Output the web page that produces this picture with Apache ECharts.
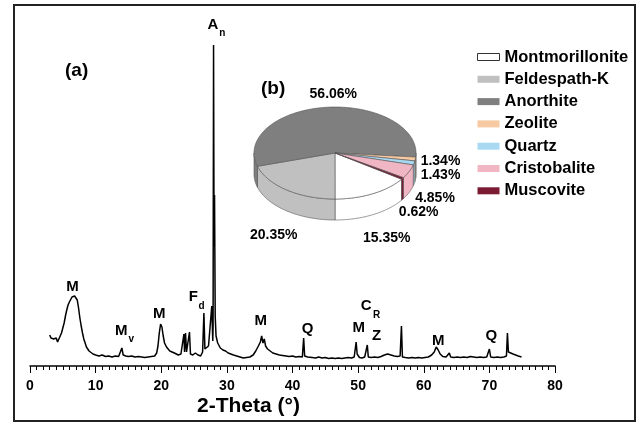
<!DOCTYPE html>
<html>
<head>
<meta charset="utf-8">
<script src="https://cdn.jsdelivr.net/npm/echarts@6/dist/echarts.min.js"></script>
<style>
  html, body { margin: 0; padding: 0; background: #fff; }
  #chart { width: 641px; height: 423px; }
</style>
</head>
<body>
<div id="chart"></div>
<script>
// XRD pattern, [2-theta, counts]
const xrdTrace = [
  [3.0, 310], [3.2, 280], [3.4, 300], [3.6, 270], [3.8, 250], [4.0, 280], [4.2, 240], [4.4, 270],
  [4.6, 300], [4.8, 330], [5.0, 380], [5.2, 430], [5.4, 500], [5.6, 560], [5.8, 610], [6.0, 640],
  [6.2, 660], [6.4, 690], [6.6, 710], [6.8, 700], [7.0, 680], [7.2, 660], [7.4, 580], [7.6, 480],
  [7.8, 400], [8.0, 330], [8.2, 270], [8.4, 230], [8.6, 190], [8.8, 170], [9.0, 150], [9.3, 130],
  [9.6, 120], [10.0, 110], [10.5, 100], [11.0, 110], [11.5, 95], [12.0, 100], [12.5, 90], [13.0, 100],
  [13.5, 95], [13.8, 110], [14.0, 180], [14.2, 110], [14.6, 100], [15.0, 95], [15.5, 100], [16.0, 90],
  [16.5, 95], [17.0, 90], [17.5, 85], [18.0, 90], [18.5, 95], [19.0, 100], [19.3, 130], [19.5, 200],
  [19.7, 330], [19.9, 420], [20.1, 390], [20.3, 300], [20.5, 230], [20.8, 190], [21.0, 170], [21.3, 150],
  [21.6, 160], [22.0, 130], [22.3, 140], [22.6, 110], [23.0, 120], [23.3, 130], [23.45, 320], [23.55, 140],
  [23.7, 330], [23.85, 140], [24.0, 120], [24.3, 340], [24.45, 120], [24.8, 110], [25.2, 130], [25.6, 110],
  [26.0, 100], [26.3, 140], [26.5, 530], [26.65, 170], [26.9, 150], [27.2, 200], [27.5, 180], [27.7, 600],
  [27.85, 250], [27.9, 400], [27.97, 3210], [28.05, 1200], [28.12, 1710], [28.22, 500], [28.35, 300], [28.6, 230],
  [29.0, 180], [29.4, 160], [29.8, 150], [30.2, 130], [30.6, 120], [31.0, 110], [31.5, 100], [32.0, 90],
  [32.5, 80], [33.0, 85], [33.5, 90], [34.0, 110], [34.4, 150], [34.8, 200], [35.1, 240], [35.3, 300],
  [35.5, 230], [35.7, 270], [35.9, 200], [36.2, 170], [36.6, 150], [37.0, 130], [37.5, 120], [38.0, 110],
  [38.5, 105], [39.0, 100], [39.5, 95], [40.0, 100], [40.5, 90], [41.0, 95], [41.5, 90], [41.7, 280],
  [41.85, 100], [42.3, 90], [43.0, 85], [43.5, 80], [44.0, 90], [44.5, 80], [45.0, 85], [45.5, 75],
  [46.0, 80], [46.5, 75], [47.0, 80], [47.5, 75], [48.0, 80], [48.5, 85], [49.0, 80], [49.4, 90],
  [49.7, 240], [49.85, 120], [50.2, 85], [50.6, 80], [51.0, 90], [51.4, 210], [51.55, 90], [52.0, 85],
  [52.5, 90], [53.0, 85], [53.5, 95], [54.0, 110], [54.5, 120], [55.0, 110], [55.5, 100], [56.0, 95],
  [56.4, 100], [56.6, 400], [56.75, 90], [57.2, 85], [57.7, 80], [58.2, 85], [58.7, 80], [59.2, 85],
  [59.7, 80], [60.2, 85], [60.7, 90], [61.2, 110], [61.6, 140], [61.9, 190], [62.2, 160], [62.5, 120],
  [62.9, 95], [63.4, 90], [63.9, 130], [64.1, 90], [64.6, 85], [65.1, 90], [65.6, 85], [66.1, 90],
  [66.6, 85], [67.1, 95], [67.6, 90], [68.1, 85], [68.6, 90], [69.1, 85], [69.6, 90], [70.0, 170],
  [70.2, 90], [70.7, 85], [71.2, 90], [71.7, 85], [72.2, 90], [72.6, 100], [72.75, 330], [72.9, 140],
  [73.2, 130], [73.6, 120], [74.0, 110], [74.4, 100], [74.9, 90]
];

// peak labels [2-theta, counts, text]
const peakLabels = [
  [27.89, 3410, 'A'], [6.48, 793, 'M'], [13.9, 347, 'M'], [19.68, 522, 'M'], [24.89, 690, 'F'],
  [35.17, 455, 'M'], [42.29, 370, 'Q'], [50.1, 385, 'M'], [51.23, 598, 'C'], [52.83, 302, 'Z'],
  [62.2, 252, 'M'], [70.28, 297, 'Q']
];
const peakSubs = [
  [29.29, 3327, 'n'], [15.44, 267, 'v'], [26.13, 597, 'd'], [52.8, 505, 'R']
];

const xTicks = { min: 0, max: 80, step: 10 };

// mineral composition (%)
const minerals = ['Montmorillonite', 'Feldespath-K', 'Anorthite', 'Zeolite', 'Quartz', 'Cristobalite', 'Muscovite'];
const mineralPct = [15.35, 20.35, 56.06, 1.34, 1.43, 4.85, 0.62];
const mineralColors = ['#ffffff', '#c0c0c0', '#7f7f7f', '#f7c9a2', '#a9d9f2', '#f0b6c3', '#7a1a33'];

// pie layout
const pie = { cx: 335, cy: 153, rx: 81, ry: 46, depth: 21, start: 124.7 };
const pieLabelAt = [[386.7, 238.3], [273.7, 235], [333.3, 93.8], [440.5, 161], [440.5, 175], [435, 198], [418.7, 211.7]];

const total = mineralPct.reduce((a, b) => a + b, 0);
const before = mineralPct.map((_, i) => mineralPct.slice(0, i).reduce((a, b) => a + b, 0));

function ep(a, dy) {
  const r = a * Math.PI / 180;
  return [pie.cx + pie.rx * Math.sin(r), pie.cy - pie.ry * Math.cos(r) + dy];
}
function arc(a0, a1, dy) {
  const pts = [];
  const n = Math.max(2, Math.ceil(a1 - a0));
  for (let k = 0; k <= n; k++) pts.push(ep(a0 + (a1 - a0) * k / n, dy));
  return pts;
}

function sliceRenderer(idx) {
  return function (params, api) {
    const v = api.value(0);
    const a0 = pie.start + 360 * before[idx] / total;
    const a1 = a0 + 360 * v / total;
    const color = mineralColors[idx];
    const children = [];
    [[90, 270], [450, 630]].forEach(([lo, hi]) => {
      const s = Math.max(a0, lo), e = Math.min(a1, hi);
      if (s < e) {
        const pts = arc(s, e, 0).concat(arc(s, e, pie.depth).reverse());
        children.push({
          type: 'polygon', z2: 1,
          shape: { points: pts },
          style: { fill: color, stroke: '#555', lineWidth: 0.6 }
        });
      }
    });
    children.push({
      type: 'polygon', z2: 5,
      shape: { points: [[pie.cx, pie.cy]].concat(arc(a0, a1, 0)) },
      style: { fill: color, stroke: '#555', lineWidth: 0.6 }
    });
    return { type: 'group', children };
  };
}

const boldFont = { fontFamily: 'Liberation Sans, Arial, sans-serif', fontWeight: 'bold', color: '#000' };
const peakLabelStyle = { show: true, position: 'inside', formatter: (p) => p.value[2], ...boldFont, textBorderWidth: 0, opacity: 1 };

const chart = echarts.init(document.getElementById('chart'));

const pieSeries = minerals.map((name, i) => ({
  name,
  type: 'custom',
  coordinateSystem: 'none',
  itemStyle: { color: mineralColors[i] },
  renderItem: sliceRenderer(i),
  data: [[mineralPct[i]]],
  silent: true
}));

const option = {
  animation: false,
  backgroundColor: '#fff',
  grid: { left: 30, right: 86, top: 16, bottom: 57 },
  xAxis: {
    type: 'value',
    min: xTicks.min,
    max: xTicks.max,
    interval: xTicks.step,
    axisLine: { lineStyle: { color: '#000', width: 1.5 } },
    axisTick: { length: 7, lineStyle: { color: '#000', width: 1 } },
    minorTick: { show: true, splitNumber: 10, length: 4, lineStyle: { color: '#000', width: 1 } },
    splitLine: { show: false },
    axisLabel: { ...boldFont, fontSize: 14, margin: 13 }
  },
  yAxis: { type: 'value', min: 0, max: 3500, show: false },
  legend: {
    orient: 'vertical',
    left: 472,
    top: 42,
    icon: 'rect',
    itemWidth: 22,
    itemHeight: 7,
    itemGap: 2.3,
    itemTextGap: 5,
    textStyle: { ...boldFont, fontSize: 16.5, lineHeight: 20 },
    data: minerals.map((name, i) => ({
      name,
      itemStyle: i === 0 ? { color: '#fff', borderColor: '#333', borderWidth: 1 } : { color: mineralColors[i] }
    }))
  },
  graphic: [
    {
      type: 'rect', z: 100,
      shape: { x: 14, y: 5, width: 621, height: 416 },
      style: { fill: null, stroke: '#222', lineWidth: 2 }
    },
    {
      type: 'text', left: 197, top: 396,
      style: { text: '2-Theta (°)', font: 'bold 21px Liberation Sans, Arial, sans-serif', fill: '#000' }
    },
    {
      type: 'text', left: 65, top: 61,
      style: { text: '(a)', font: 'bold 19px Liberation Sans, Arial, sans-serif', fill: '#000' }
    },
    {
      type: 'text', left: 261, top: 79,
      style: { text: '(b)', font: 'bold 19px Liberation Sans, Arial, sans-serif', fill: '#000' }
    }
  ].concat(mineralPct.map((v, i) => ({
    type: 'text', z: 50,
    x: pieLabelAt[i][0], y: pieLabelAt[i][1],
    style: {
      text: v.toFixed(2) + '%', font: 'bold 14px Liberation Sans, Arial, sans-serif',
      fill: '#000', align: 'center', verticalAlign: 'middle'
    }
  }))),
  series: [
    {
      name: 'XRD',
      type: 'line',
      data: xrdTrace,
      showSymbol: false,
      silent: true,
      lineStyle: { color: '#000', width: 1.5 },
      z: 3
    },
    {
      type: 'scatter',
      data: peakLabels,
      symbolSize: 0,
      silent: true,
      clip: false,
      itemStyle: { opacity: 1 },
      label: { ...peakLabelStyle, fontSize: 15 }
    },
    {
      type: 'scatter',
      data: peakSubs,
      symbolSize: 0,
      silent: true,
      clip: false,
      itemStyle: { opacity: 1 },
      label: { ...peakLabelStyle, fontSize: 10 }
    }
  ].concat(pieSeries)
};

chart.setOption(option);
</script>
</body>
</html>
